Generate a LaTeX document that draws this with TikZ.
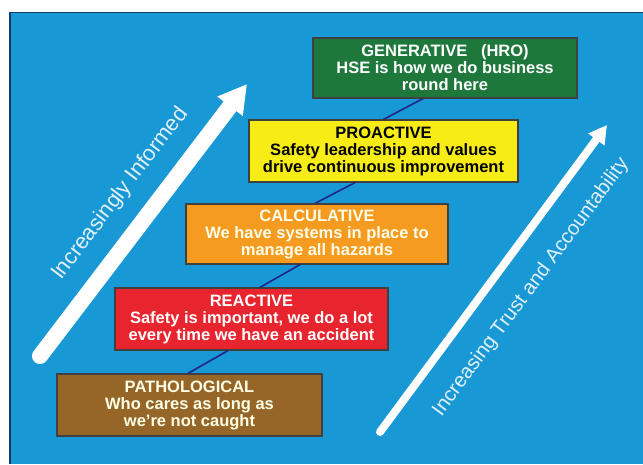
\documentclass[tikz,border=0pt]{standalone}
\usepackage{fontspec}
\setmainfont{Liberation Sans}
\usetikzlibrary{calc,arrows.meta}
\definecolor{bgblue}{RGB}{24,152,212}
\definecolor{frameblue}{RGB}{20,60,110}
\definecolor{genGreen}{RGB}{30,120,60}
\definecolor{proYellow}{RGB}{248,236,22}
\definecolor{calcOrange}{RGB}{245,155,32}
\definecolor{reRed}{RGB}{232,36,46}
\definecolor{pathBrown}{RGB}{150,102,40}
\definecolor{linkNavy}{RGB}{32,36,140}
\definecolor{paleText}{RGB}{226,240,248}

\begin{document}
\begin{tikzpicture}[x=1pt,y=1pt,
  level/.style={draw=black!75,line width=1.2pt,inner sep=0pt,align=center,
    text=white,font=\fontsize{16.5}{17}\selectfont\bfseries},
  link/.style={draw=linkNavy,line width=1.6pt},
  trend/.style={draw=white,line cap=round},
  trendtext/.style={text=paleText,inner sep=0pt}]
\useasboundingbox (0,0) rectangle (643,464);
\fill[bgblue] (10,0) rectangle (643,452);
\draw[frameblue,line width=2pt] (10,0) -- (10,452);
\draw[frameblue,line width=0.8pt] (10,452) -- (643,452);

% arrows at the sides
\coordinate (infoTail) at (40,108);
\coordinate (infoTip) at (247,380);
\coordinate (trustTail) at (380,32);
\coordinate (trustTip) at (607,339);
\draw[trend,line width=16pt,-{Triangle[length=28pt,width=30pt]}] (infoTail) -- (infoTip)
  node[trendtext,font=\fontsize{22}{24}\selectfont,pos=0.52,sloped,above=16pt] {Increasingly Informed};
\draw[trend,line width=8pt,-{Triangle[length=18pt,width=19pt]}] (trustTail) -- (trustTip)
  node[trendtext,font=\fontsize{20.3}{24}\selectfont,pos=0.54,sloped,below=22pt] {Increasing Trust and Accountability};

% the five levels
\node[level,fill=genGreen,minimum width=264pt,minimum height=60pt] (gen) at (445,396)
  {GENERATIVE\ \ \ (HRO)\\HSE is how we do business\\round here};
\node[level,fill=proYellow,text=black,minimum width=269pt,minimum height=62pt] (pro) at (383.5,313)
  {PROACTIVE\\Safety leadership and values\\drive continuous improvement};
\node[level,fill=calcOrange,text=white!92!yellow,minimum width=262pt,minimum height=60pt] (calc) at (317,230)
  {CALCULATIVE\\We have systems in place to\\manage all hazards};
\node[level,fill=reRed,minimum width=273pt,minimum height=62pt] (re) at (251.5,145)
  {REACTIVE\\Safety is important, we do a lot\\every time we have an accident};
\node[level,fill=pathBrown,text=white!90!yellow,minimum width=265pt,minimum height=62pt] (path) at (189.5,59)
  {PATHOLOGICAL\\Who cares as long as\\we're not caught};

\foreach \a/\b/\da/\db in {gen/pro/-22/0, pro/calc/-28.5/-2, calc/re/-17/8.5, re/path/-23.5/-1.5}
{       \draw[link] ($(\a.south)+(\da,0)$) -- ($(\b.north)+(\db,0)$);
}
\end{tikzpicture}
\end{document}
